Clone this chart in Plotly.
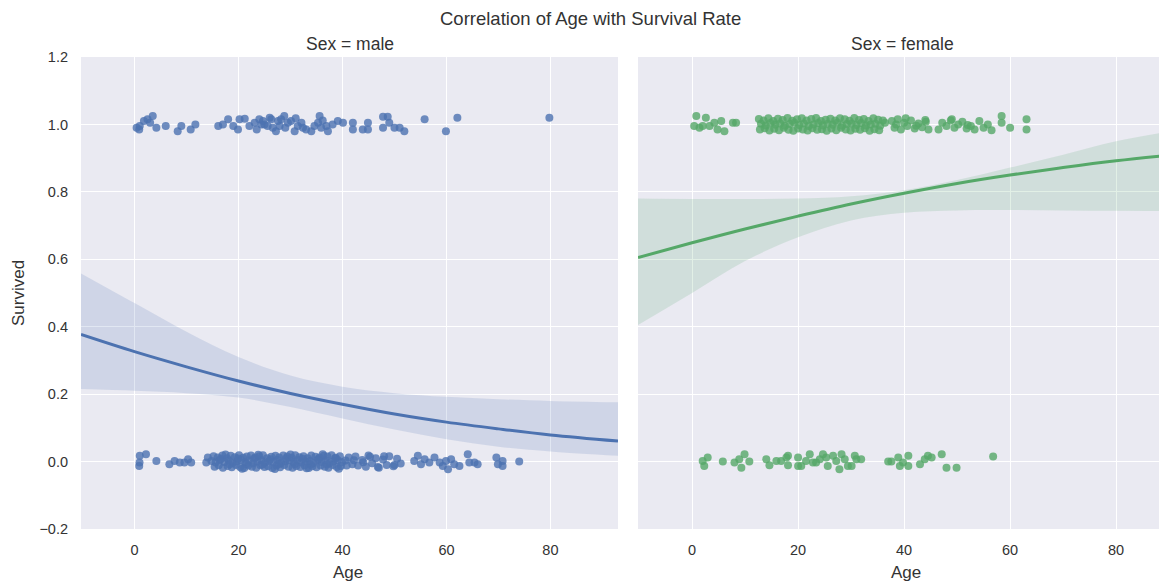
import plotly.graph_objects as go

# ---------------- data ----------------
BLUE = "#4C72B0"
GREEN = "#55A868"

# Male, survived (age, jittered y)
male_surv_age = [0.4, 0.9, 1.0, 1.8, 2.5, 3.0, 3.5, 4.2, 6.0, 8.3, 9.0, 10.8, 11.7,
                 16.1, 17.0, 18.0, 19.0, 19.9, 20.2, 21.2, 22.1, 23.1, 24.0, 24.7, 25.0,
                 25.6, 26.3, 26.6, 27.2, 27.6, 28.2, 28.8, 29.5, 30.1, 30.8, 31.4, 32.1,
                 32.4, 34.0, 34.6, 35.3, 35.6, 35.9, 36.9, 37.2, 38.1, 39.1, 40.1, 42.0,
                 42.0, 43.9, 44.9, 44.9, 47.8, 47.8, 48.7, 49.0, 50.0, 51.0, 51.9, 55.8,
                 59.9, 62.1, 79.8, 23.5, 26.0, 29.0, 31.0, 33.0, 36.2, 27.9, 24.4]
male_surv_y = [0.990, 0.985, 0.995, 1.010, 1.015, 1.005, 1.025, 0.990, 0.995, 0.980,
               0.995, 0.985, 1.000, 0.995, 1.000, 1.015, 0.995, 0.985, 1.015, 1.017,
               0.995, 1.005, 1.015, 1.010, 1.000, 0.995, 1.015, 0.990, 0.980, 1.010,
               1.015, 1.025, 1.005, 1.010, 0.980, 0.995, 1.005, 0.990, 0.980, 0.995,
               1.005, 1.025, 0.990, 0.995, 0.980, 1.000, 1.010, 1.005, 1.005, 0.985,
               0.985, 1.005, 0.985, 1.023, 0.990, 1.023, 1.005, 0.990, 0.990, 0.980,
               1.015, 0.980, 1.020, 1.020, 0.985, 1.020, 0.990, 1.018, 0.985, 1.012,
               0.995, 1.000]

# Male, died
male_died_age = [0.96, 1.0, 2.2, 0.9, 4.2, 6.7, 7.7, 8.7, 9.6, 10.3, 10.9, 13.8, 14.1,
                 # upper row of the dense band
                 15.2, 16.0, 16.9, 17.8, 18.5, 19.3, 20.1, 20.9, 21.6, 22.4, 23.2, 24.0,
                 24.7, 25.5, 26.3, 27.1, 27.8, 28.6, 29.4, 30.2, 30.9, 31.7, 32.5, 33.3,
                 34.0, 34.8, 35.6, 36.4, 37.1, 37.9, 38.7, 39.5,
                 # middle row
                 14.8, 15.6, 16.4, 17.3, 18.1, 18.9, 19.7, 20.5, 21.3, 22.0, 22.8, 23.6,
                 24.4, 25.1, 25.9, 26.7, 27.5, 28.2, 29.0, 29.8, 30.6, 31.3, 32.1, 32.9,
                 33.7, 34.4, 35.2, 36.0, 36.8, 37.5, 38.3, 39.1, 39.9, 40.6,
                 # lower row
                 15.4, 16.2, 17.0, 17.9, 18.7, 19.5, 20.3, 21.1, 21.9, 22.6, 23.4, 24.2,
                 25.0, 25.7, 26.5, 27.3, 28.0, 28.8, 29.6, 30.4, 31.1, 31.9, 32.7, 33.5,
                 34.2, 35.0, 35.8, 36.6, 37.3, 38.1, 38.9, 39.7,
                 # extra fill of the dense band
                 16.6, 18.3, 19.9, 21.5, 23.0, 24.6, 26.1, 27.7, 29.2, 30.8, 32.3, 33.9,
                 35.4, 37.0, 38.6, 17.5, 20.7, 23.8, 27.0, 30.0, 33.1, 36.2, 39.3,
                 # 40 - 52
                 41.2, 41.9, 42.5, 43.0, 43.8, 44.5, 45.0, 45.7, 46.4, 47.0, 47.8, 48.5,
                 49.0, 49.8, 50.5, 51.2, 40.8, 42.2, 44.0, 45.3, 46.8, 48.0, 50.0,
                 # sparse tail
                 53.8, 54.5, 55.1, 55.8, 56.7, 57.7, 58.7, 59.3, 59.9, 60.3, 60.9, 61.5,
                 62.5, 64.1, 64.4, 65.4, 66.0, 69.6, 69.9, 70.8, 70.8, 74.0]
male_died_y = [-0.003, 0.017, 0.022, -0.013, 0.002, -0.008, 0.002, -0.003, -0.003, 0.007,
               -0.003, -0.003, 0.012,
               0.016, 0.012, 0.018, 0.010, 0.017, 0.013, 0.019, 0.011, 0.015, 0.018, 0.012,
               0.016, 0.019, 0.010, 0.014, 0.017, 0.012, 0.018, 0.015, 0.011, 0.019, 0.013,
               0.016, 0.010, 0.018, 0.014, 0.012, 0.017, 0.015, 0.019, 0.011, 0.016,
               0.002, -0.003, 0.004, -0.001, 0.003, -0.004, 0.001, 0.005, -0.002, 0.003,
               -0.005, 0.000, 0.004, -0.003, 0.002, -0.001, 0.005, -0.004, 0.001, 0.003,
               -0.002, 0.004, -0.003, 0.000, 0.002, -0.004, 0.005, -0.001, 0.003, -0.005,
               0.001, 0.004, -0.002, 0.003,
               -0.015, -0.011, -0.018, -0.013, -0.017, -0.010, -0.016, -0.019, -0.012,
               -0.015, -0.018, -0.011, -0.016, -0.014, -0.019, -0.012, -0.017, -0.010,
               -0.015, -0.018, -0.013, -0.016, -0.011, -0.019, -0.014, -0.017, -0.012,
               -0.015, -0.018, -0.010, -0.016, -0.013,
               0.008, -0.008, 0.009, -0.007, 0.008, -0.009, 0.007, -0.008, 0.009, -0.007,
               0.008, -0.009, 0.007, -0.008, 0.009, 0.021, -0.021, 0.020, -0.022, 0.021,
               -0.020, 0.022, -0.021,
               0.012, -0.008, 0.015, -0.012, 0.005, -0.015, 0.018, -0.005, 0.010, -0.018,
               0.006, -0.010, 0.016, -0.014, 0.008, -0.006, -0.012, 0.004, -0.002, 0.014,
               -0.016, 0.016, -0.010,
               0.002, 0.017, -0.008, 0.007, -0.003, 0.012, -0.003, -0.013, 0.002, -0.023,
               0.007, -0.008, -0.013, 0.022, -0.003, -0.003, -0.008, 0.012, -0.008, 0.002,
               -0.013, 0.000]

# Female, survived
fem_surv_age = [0.4, 0.8, 1.4, 2.0, 2.6, 3.3, 4.2, 4.8, 5.5, 6.1, 7.7, 8.3,
                # upper row
                12.6, 13.5, 14.4, 15.3, 16.2, 17.1, 18.0, 18.9, 19.8, 20.7, 21.6, 22.5,
                23.4, 24.3, 25.2, 26.1, 27.0, 27.9, 28.8, 29.7, 30.6, 31.5, 32.4, 33.3,
                34.2, 35.1, 36.0,
                # middle row
                13.0, 13.9, 14.8, 15.7, 16.6, 17.5, 18.4, 19.3, 20.2, 21.1, 22.0, 22.9,
                23.8, 24.7, 25.6, 26.5, 27.4, 28.3, 29.2, 30.1, 31.0, 31.9, 32.8, 33.7,
                34.6, 35.5, 36.4,
                # lower row
                12.8, 13.7, 14.6, 15.5, 16.4, 17.3, 18.2, 19.1, 20.0, 20.9, 21.8, 22.7,
                23.6, 24.5, 25.4, 26.3, 27.2, 28.1, 29.0, 29.9, 30.8, 31.7, 32.6, 33.5,
                34.4, 35.3,
                # 37 - 45
                37.7, 38.2, 38.8, 39.4, 40.0, 40.6, 41.3, 42.0, 42.7, 43.4, 44.1, 44.6,
                38.5, 40.3, 42.3, 44.0,
                # 46 - 57
                46.5, 47.2, 48.0, 48.8, 49.5, 50.2, 51.0, 51.8, 52.6, 53.3, 54.2, 55.0,
                55.8, 56.5, 49.0, 52.0,
                # tail
                58.4, 58.4, 60.0, 63.1, 63.1]
fem_surv_y = [0.995, 1.025, 0.990, 0.995, 1.020, 0.995, 1.005, 0.985, 1.010, 0.980,
              1.005, 1.005,
              1.016, 1.012, 1.018, 1.010, 1.017, 1.013, 1.019, 1.011, 1.015, 1.018,
              1.012, 1.016, 1.019, 1.010, 1.014, 1.017, 1.012, 1.018, 1.015, 1.011,
              1.019, 1.013, 1.016, 1.010, 1.018, 1.014, 1.012,
              1.002, 0.997, 1.004, 0.999, 1.003, 0.996, 1.001, 1.005, 0.998, 1.003,
              0.995, 1.000, 1.004, 0.997, 1.002, 0.999, 1.005, 0.996, 1.001, 1.003,
              0.998, 1.004, 0.997, 1.000, 1.002, 0.996, 1.005,
              0.985, 0.989, 0.982, 0.987, 0.983, 0.990, 0.984, 0.981, 0.988, 0.985,
              0.982, 0.989, 0.984, 0.986, 0.981, 0.988, 0.983, 0.990, 0.985, 0.982,
              0.987, 0.984, 0.989, 0.981, 0.986, 0.983,
              1.010, 0.990, 1.015, 0.985, 1.005, 0.995, 1.012, 0.988, 1.003, 0.992,
              1.008, 0.985, 1.000, 1.018, 0.996, 1.013,
              0.985, 1.005, 0.995, 1.012, 0.990, 1.000, 1.008, 0.988, 0.995, 0.985,
              1.010, 0.990, 1.000, 0.983, 1.015, 0.998,
              1.025, 1.005, 0.990, 1.015, 0.985]

# Female, died
fem_died_age = [2.0, 2.3, 2.95, 5.8, 8.0, 8.9, 9.3, 9.9, 10.8, 14.0, 14.6, 15.9, 16.8,
                17.8, 18.1, 18.1, 20.0, 20.0, 20.6, 21.5, 22.2, 22.8, 23.4, 24.1, 24.7,
                25.3, 25.6, 26.6, 27.2, 27.8, 28.2, 28.8, 29.4, 30.1, 30.7, 31.0, 31.9,
                37.0, 37.6, 38.9, 39.2, 39.8, 40.8, 40.8, 43.0, 43.9, 44.5, 45.2, 47.1,
                48.0, 49.9, 56.8]
fem_died_y = [0.002, -0.013, 0.012, 0.000, -0.003, 0.007, -0.018, 0.022, 0.000, 0.007,
              -0.011, 0.002, 0.002, 0.012, -0.011, 0.017, -0.013, 0.012, -0.013, 0.002,
              0.022, -0.003, -0.003, 0.007, 0.022, 0.012, -0.013, 0.017, 0.002, -0.023,
              0.022, 0.007, -0.013, -0.013, 0.017, 0.007, 0.007, 0.000, 0.000, 0.012,
              -0.013, -0.003, 0.017, -0.013, -0.008, 0.007, 0.017, 0.012, 0.022, -0.018,
              -0.018, 0.015]

# Logistic fit and 95% CI
male_fit_x = [-10.3, 0, 10, 20, 30, 40, 50, 60, 70, 80, 93]
male_fit_y = [0.377, 0.326, 0.281, 0.239, 0.202, 0.170, 0.141, 0.117, 0.097, 0.079, 0.061]
male_ci_hi = [0.558, 0.470, 0.385, 0.310, 0.255, 0.222, 0.203, 0.192, 0.185, 0.180, 0.176]
male_ci_lo = [0.215, 0.210, 0.203, 0.190, 0.162, 0.128, 0.095, 0.066, 0.044, 0.030, 0.017]

fem_fit_x = [-10.2, 0, 10, 20, 30, 40, 50, 60, 70, 80, 89.6]
fem_fit_y = [0.605, 0.649, 0.690, 0.728, 0.764, 0.796, 0.825, 0.850, 0.872, 0.892, 0.908]
fem_ci_hi = [0.780, 0.779, 0.779, 0.780, 0.787, 0.805, 0.835, 0.872, 0.910, 0.950, 0.978]
fem_ci_lo = [0.405, 0.500, 0.595, 0.665, 0.715, 0.738, 0.745, 0.746, 0.745, 0.744, 0.743]

y_ticks = [-0.2, 0.0, 0.2, 0.4, 0.6, 0.8, 1.0, 1.2]
x_ticks = [0, 20, 40, 60, 80]

# ---------------- figure ----------------
fig = go.Figure()


def band(xs, lo, hi, color, xa, ya):
    fig.add_trace(go.Scatter(x=xs, y=lo, mode="lines", line=dict(width=0, shape="spline"),
                             hoverinfo="skip", showlegend=False, xaxis=xa, yaxis=ya))
    fig.add_trace(go.Scatter(x=xs, y=hi, mode="lines", line=dict(width=0, shape="spline"),
                             fill="tonexty", fillcolor=color, hoverinfo="skip",
                             showlegend=False, xaxis=xa, yaxis=ya))


band(male_fit_x, male_ci_lo, male_ci_hi, "rgba(76,114,176,0.17)", "x", "y")
band(fem_fit_x, fem_ci_lo, fem_ci_hi, "rgba(85,168,104,0.17)", "x2", "y2")

mk = dict(size=8, opacity=0.8, line=dict(width=0))
fig.add_trace(go.Scatter(x=male_surv_age + male_died_age, y=male_surv_y + male_died_y,
                         mode="markers", marker=dict(color=BLUE, **mk),
                         showlegend=False, xaxis="x", yaxis="y"))
fig.add_trace(go.Scatter(x=fem_surv_age + fem_died_age, y=fem_surv_y + fem_died_y,
                         mode="markers", marker=dict(color=GREEN, **mk),
                         showlegend=False, xaxis="x2", yaxis="y2"))

fig.add_trace(go.Scatter(x=male_fit_x, y=male_fit_y, mode="lines",
                         line=dict(color=BLUE, width=3, shape="spline"), showlegend=False,
                         xaxis="x", yaxis="y"))
fig.add_trace(go.Scatter(x=fem_fit_x, y=fem_fit_y, mode="lines",
                         line=dict(color=GREEN, width=3, shape="spline"), showlegend=False,
                         xaxis="x2", yaxis="y2"))

FONT = "Liberation Sans, Arial, sans-serif"
TXT = "#333333"
axis_common = dict(showgrid=True, gridcolor="white", gridwidth=1.3, zeroline=False,
                   showline=False, ticks="", automargin=False,
                   tickfont=dict(size=14.5, color=TXT, family=FONT))

# The page body has an 8 px margin, so the figure is drawn 8 px smaller and
# every reference pixel position is shifted by 8.
OFF = 8
W, H = 1167 - OFF, 583 - OFF
T, B = 57 - OFF, 54
PH = H - T - B


def px(x):
    return (x - OFF) / W


def py(y):
    return (529 - y) / PH


ann = dict(xref="paper", yref="paper", showarrow=False, xanchor="center", yanchor="middle")

fig.update_layout(
    width=W, height=H,
    margin=dict(l=0, r=0, t=T, b=B, pad=0),
    paper_bgcolor="white", plot_bgcolor="#EAEAF2",
    font=dict(family=FONT, color=TXT),
    xaxis=dict(domain=[px(81), px(618)], range=[-10.3, 93], tickvals=x_ticks,
               ticklabelstandoff=10, anchor="y", **axis_common),
    xaxis2=dict(domain=[px(638), 1.0], range=[-10.2, 89.6], tickvals=x_ticks,
                ticklabelstandoff=10, anchor="y2", **axis_common),
    yaxis=dict(range=[-0.2, 1.2], tickvals=y_ticks, tickformat=".1f",
               ticklabelstandoff=12, anchor="x", **axis_common),
    yaxis2=dict(range=[-0.2, 1.2], tickvals=y_ticks, showticklabels=False,
                anchor="x2", **axis_common),
    annotations=[
        dict(text="Correlation of Age with Survival Rate", x=px(590), y=py(18),
             font=dict(size=18.5, color=TXT), **ann),
        dict(text="Sex = male", x=px((81 + 618) / 2), y=py(44),
             font=dict(size=17.5, color=TXT), **ann),
        dict(text="Sex = female", x=px((638 + 1167) / 2), y=py(44),
             font=dict(size=17.5, color=TXT), **ann),
        dict(text="Age", x=px(348), y=py(572), font=dict(size=17, color=TXT), **ann),
        dict(text="Age", x=px(906), y=py(572), font=dict(size=17, color=TXT), **ann),
        dict(text="Survived", x=px(18), y=py(293), textangle=-90,
             font=dict(size=17, color=TXT), **ann),
    ],
)

fig.write_html("out.html")
